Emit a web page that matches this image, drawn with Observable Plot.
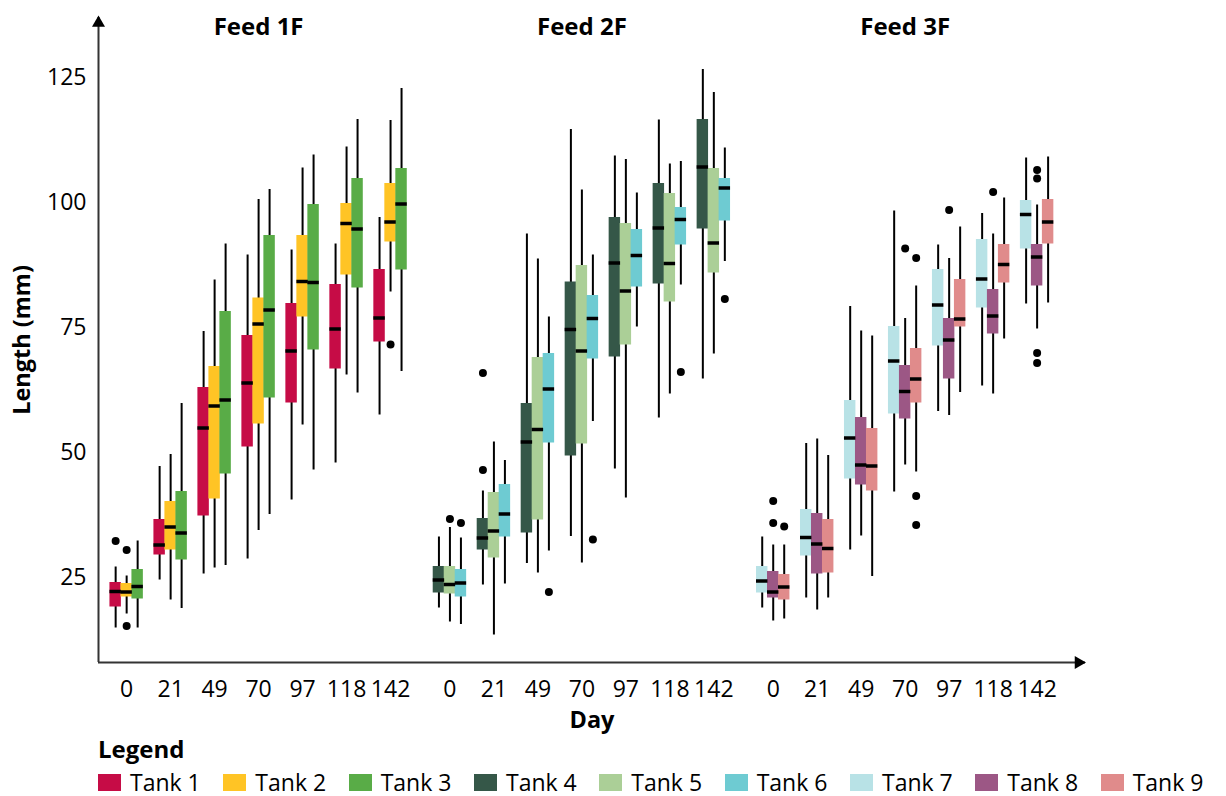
<!DOCTYPE html>
<html>
<head>
<meta charset="utf-8">
<script src="https://cdn.jsdelivr.net/npm/d3@7"></script>
<script src="https://cdn.jsdelivr.net/npm/@observablehq/plot@0.6"></script>
<style>
  html, body { margin: 0; padding: 0; background: #fff; }
  body { width: 1226px; height: 796px; overflow: hidden; font-family: "Open Sans", sans-serif; color: #000; }
  #legend { margin-left: 98px; }
  #legend .title { font-weight: bold; font-size: 24px; line-height: 26px; }
  #legend .row { display: flex; margin-top: 7px; }
  #legend .item { width: 128.7px; display: flex; align-items: center; font-size: 23px; line-height: 26px; white-space: nowrap; }
  #legend .sw { width: 23px; height: 17px; margin-right: 9px; flex: none; }
</style>
</head>
<body>
<div id="chart"></div>
<div id="legend"></div>
<script>
// ---- data ----
const days = [0, 21, 49, 70, 97, 118, 142];
const feeds = ["Feed 1F", "Feed 2F", "Feed 3F"];
const tanks = ["Tank 1", "Tank 2", "Tank 3", "Tank 4", "Tank 5", "Tank 6", "Tank 7", "Tank 8", "Tank 9"];
const tankColors = ["#C60C46", "#FFC425", "#59AC47", "#355748", "#ABCF97", "#6ECBD2", "#B8E2E6", "#9C5785", "#E08B8B"];
const yTicks = [25, 50, 75, 100, 125];

// lower whisker, per tank (rows) and day (columns)
const whiskerLow = [
  [14.9, 24.5, 25.7, 28.7, 40.5, 47.9, 57.5],
  [17.7, 20.5, 26.9, 34.4, 55.5, 65.5, 82.1],
  [14.9, 18.8, 27.4, 37.6, 46.5, 61.9, 66.2],
  [18.9, 23.5, 27.8, 33.2, 46.7, 56.9, 64.7],
  [16.1, 13.5, 25.9, 27.9, 40.9, 61.7, 69.7],
  [15.6, 23.7, 30.3, 56.2, 75.1, 83.5, 88.2],
  [18.9, 20.9, 30.5, 42.1, 58.2, 63.3, 79.7],
  [16.3, 18.5, 33.3, 47.5, 57.4, 61.7, 74.7],
  [16.7, 20.9, 25.2, 46.1, 62.0, 72.7, 79.9]
];
// first quartile
const q1 = [
  [19.1, 29.5, 37.3, 51.1, 59.9, 66.7, 72.1],
  [21.1, 30.5, 40.7, 55.7, 77.1, 85.5, 92.1],
  [20.7, 28.5, 45.7, 60.9, 70.5, 82.9, 86.5],
  [21.9, 30.5, 33.9, 49.3, 69.1, 83.7, 94.7],
  [21.7, 28.9, 36.5, 51.7, 71.5, 80.1, 85.9],
  [21.1, 33.1, 51.9, 68.7, 83.1, 91.5, 96.3],
  [21.9, 29.3, 44.7, 57.7, 71.3, 78.9, 90.7],
  [20.9, 25.7, 43.5, 56.7, 64.7, 73.7, 83.3],
  [20.5, 25.9, 42.3, 59.9, 75.1, 83.9, 91.7]
];
// median
const median = [
  [22.2, 31.5, 54.9, 63.9, 70.3, 74.7, 76.9],
  [22.1, 35.1, 59.3, 75.7, 84.2, 95.8, 96.1],
  [23.2, 33.9, 60.5, 78.5, 84.0, 94.7, 99.7],
  [24.5, 32.9, 52.1, 74.6, 87.9, 94.9, 107.1],
  [23.6, 34.3, 54.6, 70.3, 82.3, 87.8, 91.9],
  [23.9, 37.7, 62.7, 76.8, 89.4, 96.6, 102.9],
  [24.3, 33.0, 52.9, 68.3, 79.5, 84.7, 97.6],
  [22.1, 31.7, 47.5, 62.2, 72.5, 77.3, 89.1],
  [23.1, 30.8, 47.3, 64.7, 76.7, 87.6, 96.1]
];
// third quartile
const q3 = [
  [24.0, 36.6, 63.0, 73.4, 79.8, 83.6, 86.6],
  [23.8, 40.2, 67.2, 80.9, 93.4, 99.8, 103.8],
  [26.6, 42.2, 78.2, 93.4, 99.6, 104.8, 106.8],
  [27.2, 36.8, 59.8, 84.1, 97.0, 103.8, 116.6],
  [27.2, 42.0, 69.0, 87.4, 95.8, 101.8, 106.8],
  [26.6, 43.6, 69.8, 81.4, 94.6, 99.0, 104.8],
  [27.2, 38.6, 60.4, 75.2, 86.6, 92.6, 100.4],
  [26.2, 37.8, 57.0, 67.4, 76.8, 82.6, 91.6],
  [25.6, 36.6, 54.8, 70.8, 84.6, 91.6, 100.6]
];
// upper whisker
const whiskerHigh = [
  [27.1, 47.2, 74.2, 89.5, 90.5, 91.7, 97.0],
  [25.3, 49.6, 84.5, 100.6, 106.9, 111.1, 116.4],
  [32.3, 59.8, 91.7, 102.6, 109.5, 116.6, 122.8],
  [33.1, 42.3, 93.7, 114.6, 109.3, 116.5, 126.6],
  [35.0, 52.1, 88.7, 102.5, 108.6, 107.7, 122.0],
  [32.9, 48.4, 77.1, 89.5, 101.9, 108.2, 110.9],
  [33.1, 51.8, 79.2, 98.3, 91.5, 97.8, 108.9],
  [31.5, 52.7, 74.3, 76.8, 88.8, 93.7, 99.5],
  [31.5, 49.4, 73.3, 83.3, 95.1, 100.9, 109.1]
];
// outliers: [tank index, day index, length]
const outliers = [
  [0, 0, 32.3], [1, 0, 30.5], [1, 0, 15.3], [1, 6, 71.6],
  [3, 1, 46.5], [3, 1, 65.9], [4, 0, 36.7], [5, 0, 35.9],
  [5, 2, 22.1], [5, 3, 32.6], [5, 5, 66.1], [5, 6, 80.7],
  [7, 0, 40.3], [7, 0, 35.9], [8, 0, 35.2],
  [7, 3, 90.8], [8, 3, 88.9], [8, 3, 41.3], [8, 3, 35.5],
  [7, 4, 98.5], [7, 5, 102.1],
  [7, 6, 106.5], [7, 6, 104.8], [7, 6, 69.9], [7, 6, 67.9]
];

// ---- layout helpers (positions on a linear x scale, in "day slot" units) ----
const GROUP = 7.35;   // distance between the first slots of consecutive feeds
const STEP = 0.25;    // offset between tanks within a day slot
const HALF = 0.13;    // half box width
const pos = (t, d) => Math.floor(t / 3) * GROUP + d + ((t % 3) - 1) * STEP;

const rows = [];
tanks.forEach((tank, t) => days.forEach((day, d) => rows.push({
  tank, day, x: pos(t, d),
  lo: whiskerLow[t][d], q1: q1[t][d], med: median[t][d], q3: q3[t][d], hi: whiskerHigh[t][d]
})));
const outRows = outliers.map(([t, d, v]) => ({tank: tanks[t], x: pos(t, d), v}));

const tickPos = [], tickLab = [];
feeds.forEach((f, fi) => days.forEach((day, d) => { tickPos.push(fi * GROUP + d); tickLab.push(String(day)); }));

const xDomain = [-0.64, 21.8];
const yDomain = [8, 137];

const chart = Plot.plot({
  width: 1226,
  height: 736,
  marginLeft: 98,
  marginRight: 141,
  marginTop: 17,
  marginBottom: 74,
  x: {type: "linear", domain: xDomain},
  y: {type: "linear", domain: yDomain},
  color: {domain: tanks, range: tankColors},
  style: {fontFamily: "'Open Sans', sans-serif", fontSize: "23px", color: "#000", background: "#fff"},
  marks: [
    Plot.axisY({ticks: yTicks, tickSize: 0, tickPadding: 12, label: null}),
    Plot.axisX({ticks: tickPos, tickFormat: (v) => tickLab[tickPos.indexOf(v)], tickSize: 0, tickPadding: 18, label: null}),
    Plot.ruleX(rows, {x: "x", y1: "lo", y2: "hi", stroke: "#000", strokeWidth: 2}),
    Plot.rect(rows, {x1: (d) => d.x - HALF, x2: (d) => d.x + HALF, y1: "q1", y2: "q3", fill: "tank"}),
    Plot.ruleY(rows, {y: "med", x1: (d) => d.x - HALF, x2: (d) => d.x + HALF, stroke: "#000", strokeWidth: 3.5}),
    Plot.dot(outRows, {x: "x", y: "v", r: 4, fill: "#000", stroke: null}),
    // axis lines with arrow heads
    Plot.ruleX([xDomain[0]], {x: (d) => d, y1: yDomain[0], y2: yDomain[1], stroke: "#333", strokeWidth: 2}),
    Plot.ruleY([yDomain[0]], {y: (d) => d, x1: xDomain[0], x2: xDomain[1], stroke: "#333", strokeWidth: 2}),
    Plot.dot([0], {x: () => xDomain[0], y: () => yDomain[1], symbol: "triangle2", r: 6.2, fill: "#000", stroke: null, dy: 5.5}),
    Plot.dot([0], {x: () => xDomain[1], y: () => yDomain[0], symbol: "triangle2", r: 6.2, fill: "#000", stroke: null, rotate: 90, dx: -7}),
    // feed titles
    Plot.text(feeds, {x: (d, i) => i * GROUP + 3, text: (d) => d, frameAnchor: "top", lineAnchor: "top", fontWeight: "bold", fontSize: 24, dy: 0}),
    // axis titles
    Plot.text(["Length (mm)"], {text: (d) => d, frameAnchor: "left", textAnchor: "middle", rotate: -90, dx: -76, fontWeight: "bold", fontSize: 23.5}),
    Plot.text(["Day"], {text: (d) => d, frameAnchor: "bottom", textAnchor: "middle", lineAnchor: "middle", dy: 58, fontWeight: "bold", fontSize: 23.5})
  ]
});
document.getElementById("chart").appendChild(chart);

// legend
const legend = document.getElementById("legend");
legend.innerHTML = '<div class="title">Legend</div><div class="row"></div>';
const row = legend.querySelector(".row");
tanks.forEach((t, i) => {
  const item = document.createElement("div");
  item.className = "item";
  item.innerHTML = `<span class="sw" style="background:${tankColors[i]}"></span><span>${t}</span>`;
  row.appendChild(item);
});
</script>
</body>
</html>
